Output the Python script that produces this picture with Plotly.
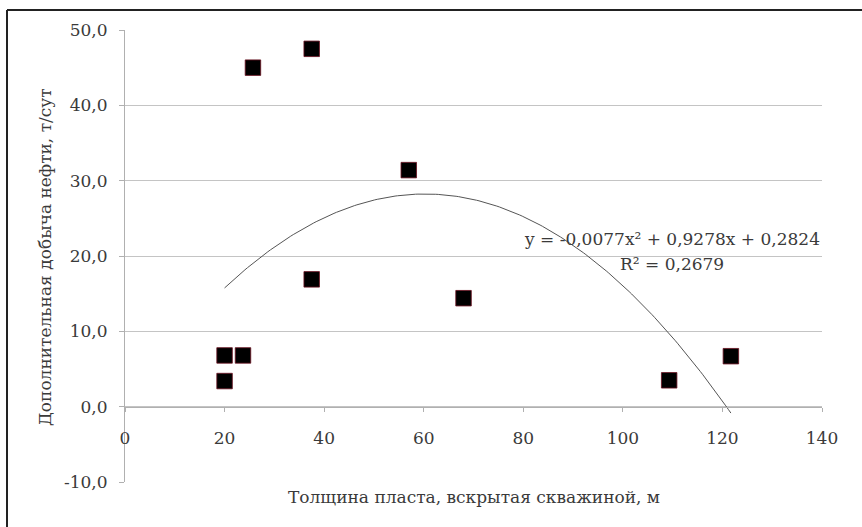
import numpy as np
import plotly.graph_objects as go

# Data
thickness = [20.0, 20.0, 23.7, 25.7, 37.5, 37.5, 57.0, 68.0, 109.3, 121.7]
extra_oil = [3.4, 6.8, 6.8, 45.0, 47.5, 16.9, 31.4, 14.4, 3.5, 6.7]

# Polynomial trendline coefficients as displayed on the chart
trend_coef = [-0.0077, 0.9278, 0.2824]
trend_range = [20.0, 121.7]

x_ticks = [0, 20, 40, 60, 80, 100, 120, 140]
y_ticks = [-10, 0, 10, 20, 30, 40, 50]
y_tick_text = ["-10,0", "0,0", "10,0", "20,0", "30,0", "40,0", "50,0"]

eq_text = "y = -0,0077x² + 0,9278x + 0,2824"
r2_text = "R² = 0,2679"
x_title = "Толщина пласта, вскрытая скважиной, м"
y_title = "Дополнительная добыча нефти, т/сут"

FONT = "DejaVu Serif"
TXT = "#3a3a3a"
FS = 17

tx = np.linspace(trend_range[0], trend_range[1], 200)
ty = np.polyval(trend_coef, tx)

fig = go.Figure()
fig.add_trace(go.Scatter(x=tx, y=ty, mode="lines",
                         line=dict(color="#555555", width=1),
                         hoverinfo="skip", showlegend=False))
fig.add_trace(go.Scatter(x=thickness, y=extra_oil, mode="markers",
                         marker=dict(symbol="square", size=15.5, color="black",
                                     line=dict(color="#6a1020", width=0.8)),
                         showlegend=False))

L, R, T, B = 125, 40, 30, 45
fig.update_layout(
    width=862, height=527,
    margin=dict(l=L, r=R, t=T, b=B),
    paper_bgcolor="white", plot_bgcolor="white",
    font=dict(family=FONT, size=FS, color=TXT),
    xaxis=dict(range=[0, 140], tickvals=x_ticks, ticktext=[str(v) for v in x_ticks],
               showgrid=False, zeroline=False, showline=True,
               linecolor="#b0b0b0", linewidth=1.2,
               ticks="outside", ticklen=4, tickcolor="#b0b0b0",
               ticklabelstandoff=12,
               anchor="free", position=1/6,
               tickfont=dict(family=FONT, size=FS, color=TXT)),
    yaxis=dict(range=[-10, 50], tickvals=y_ticks, ticktext=y_tick_text,
               showgrid=True, gridcolor="#c4c4c4", gridwidth=1.2,
               zeroline=False, showline=True, linecolor="#b0b0b0", linewidth=1.2,
               ticks="outside", ticklen=5, tickcolor="#b0b0b0",
               ticklabelstandoff=8,
               tickfont=dict(family=FONT, size=FS, color=TXT)),
    annotations=[
        dict(x=109.9, y=22.2, xref="x", yref="y", text=eq_text, showarrow=False,
             font=dict(family=FONT, size=FS, color=TXT), xanchor="center", yanchor="middle"),
        dict(x=109.9, y=18.9, xref="x", yref="y", text=r2_text, showarrow=False,
             font=dict(family=FONT, size=FS, color=TXT), xanchor="center", yanchor="middle"),
        dict(x=0.5, y=-0.033, xref="paper", yref="paper", text=x_title, showarrow=False,
             font=dict(family=FONT, size=FS, color=TXT), xanchor="center", yanchor="middle"),
        dict(x=(45 - L) / 697, y=(482 - 257) / 452, xref="paper", yref="paper", text=y_title,
             showarrow=False, textangle=-90,
             font=dict(family=FONT, size=FS, color=TXT), xanchor="center", yanchor="middle"),
    ],
    shapes=[
        dict(type="line", xref="paper", yref="paper",
             x0=(7 - L) / 697, x1=(870 - L) / 697, y0=(482 - 10) / 452, y1=(482 - 10) / 452,
             line=dict(color="#222222", width=2)),
        dict(type="line", xref="paper", yref="paper",
             x0=(7 - L) / 697, x1=(7 - L) / 697, y0=(482 - 10) / 452, y1=(482 - 540) / 452,
             line=dict(color="#222222", width=2)),
    ],
)

fig.write_html("out.html")
